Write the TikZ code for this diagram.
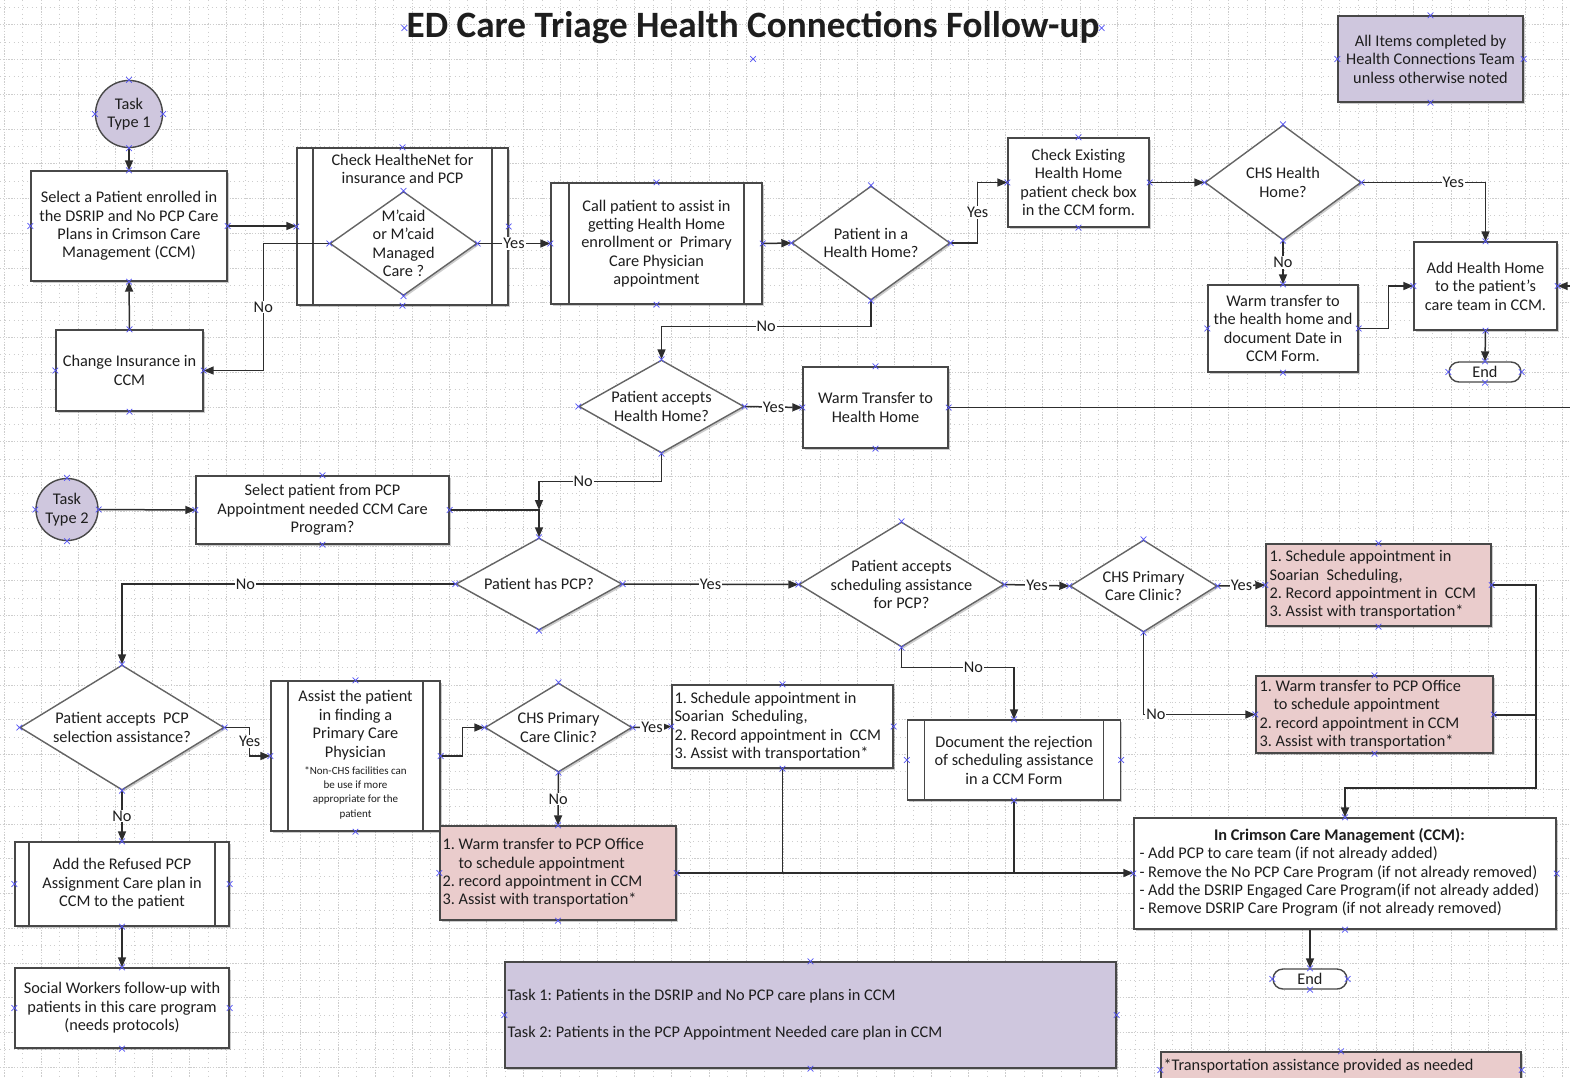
\documentclass[tikz,border=0pt]{standalone}
\usepackage{fontspec}
\setmainfont{Carlito}
\usetikzlibrary{arrows.meta,shapes.geometric,shapes.misc,shadows,calc}

\definecolor{lav}{RGB}{207,199,222}
\definecolor{pinkfill}{RGB}{234,204,204}
\definecolor{boxline}{RGB}{72,72,72}
\definecolor{decline}{RGB}{100,100,100}
\definecolor{conn}{RGB}{45,45,45}
\definecolor{gridc}{RGB}{205,205,205}
\definecolor{markc}{RGB}{85,85,245}
\definecolor{ink}{RGB}{30,30,30}

\newcommand\bodyfont{\fontsize{16.3}{18.4}\selectfont}
\newcommand\notefont{\fontsize{11}{14.2}\selectfont}
\frenchspacing

\begin{document}
\begin{tikzpicture}[x=1pt, y=-1pt, font=\bodyfont,
  every node/.style={text=ink},
  softshadow/.style={drop shadow={shadow xshift=1.8pt, shadow yshift=-1.8pt, opacity=0.2, fill=black}},
  proc/.style={rectangle, draw=boxline, line width=1.4pt, fill=white, align=center, inner sep=3pt, softshadow},
  tint/.style={proc, fill=#1},
  subproc/.style={proc, path picture={
      \draw[boxline, line width=1.4pt] ([xshift=#1]path picture bounding box.north west) -- ([xshift=#1]path picture bounding box.south west);
      \draw[boxline, line width=1.4pt] ([xshift=-#1]path picture bounding box.north east) -- ([xshift=-#1]path picture bounding box.south east);}},
  decision/.style={diamond, draw=decline, line width=1.4pt, fill=white, inner sep=0pt, softshadow},
  dtext/.style={align=center, inner sep=0pt},
  lefttext/.style={anchor=west, align=left, inner sep=4pt},
  startnode/.style={circle, draw=boxline, line width=1.4pt, fill=lav, align=center, inner sep=0pt},
  terminal/.style={rounded rectangle, draw=boxline, line width=1.4pt, fill=white, inner sep=0pt, minimum width=#1, minimum height=20pt},
  arr/.style={draw=conn, line width=1.5pt, -{Triangle[length=10pt,width=8pt]}},
  plain/.style={draw=conn, line width=1.5pt},
  lbl/.style={fill=white, inner sep=1pt},
  xmark/.style={cross out, draw=markc, line width=0.7pt, minimum size=5pt, inner sep=0pt},
  majorgrid/.style={gridc, line width=0.7pt, dash pattern=on 1.3pt off 1.5pt},
  minorgrid/.style={gridc, line width=0.6pt, dash pattern=on 0.7pt off 3.8pt},
]
\useasboundingbox (0,0) rectangle (1570,1077);
\clip (0,0) rectangle (1570,1077);
\fill[white] (0,0) rectangle (1570,1077);

% drawing-page grid
\foreach \k in {0,...,42}{
  \draw[majorgrid] ({4+37.1*\k},0) -- ({4+37.1*\k},1077);
  \draw[minorgrid] ({22.55+37.1*\k},0) -- ({22.55+37.1*\k},1077);
}
\foreach \k in {-1,...,30}{
  \draw[majorgrid] (0,{24.6+34.75*\k}) -- (1570,{24.6+34.75*\k});
  \draw[minorgrid] (0,{41.97+34.75*\k}) -- (1570,{41.97+34.75*\k});
}

% title
\node[font=\fontsize{37.2}{41}\selectfont\bfseries, inner sep=2pt] (title) at (753,28) {ED Care Triage Health Connections Follow-up};

% ---- task type 1 ----
\node[startnode, minimum size=67pt] (task1) at (129,114) {Task\\Type 1};
\node[proc, minimum width=196pt, minimum height=110pt] (sel1) at (129,226)
  {Select a Patient enrolled in\\the DSRIP and No PCP Care\\Plans in Crimson Care\\Management (CCM)};
\node[proc, minimum width=147pt, minimum height=81pt] (chgins) at (129.5,370.5) {Change Insurance in\\CCM};
\node[subproc=16pt, minimum width=211pt, minimum height=157pt,
  label={[align=center, anchor=north, yshift=-3pt]north:{Check HealtheNet for\\insurance and PCP}}] (hnet) at (402.5,226.5) {};
\node[decision, minimum width=147pt, minimum height=104pt,
  label={[dtext]center:{M’caid\\or M’caid\\Managed\\Care ?}}] (mcaid) at (403.5,243.5) {};
\node[subproc=18pt, minimum width=211pt, minimum height=121pt] (call) at (656.5,243.5)
  {Call patient to assist in\\getting Health Home\\enrollment or\ \ Primary\\Care Physician\\appointment};
\node[decision, minimum width=158pt, minimum height=114pt,
  label={[dtext]center:{Patient in a\\Health Home?}}] (phh) at (871,243) {};
\node[proc, minimum width=141pt, minimum height=89pt] (chkex) at (1078.5,182.5)
  {Check Existing\\Health Home\\patient check box\\in the CCM form.};
\node[decision, minimum width=156pt, minimum height=115pt,
  label={[dtext]center:{CHS Health\\Home?}}] (chshh) at (1283,182.5) {};
\node[tint=lav, minimum width=185pt, minimum height=86pt] (allitems) at (1430.5,59)
  {All Items completed by\\Health Connections Team\\unless otherwise noted};
\node[proc, minimum width=143pt, minimum height=88pt] (addhh) at (1485.5,286)
  {Add Health Home\\to the patient’s\\care team in CCM.};
\node[terminal=72pt] (end1) at (1485,372) {End};
\node[proc, minimum width=150pt, minimum height=87pt] (wthh2) at (1283,328.5)
  {Warm transfer to\\the health home and\\document Date in\\CCM Form.};
\node[decision, minimum width=165pt, minimum height=93pt,
  label={[dtext]center:{Patient accepts\\Health Home?}}] (pahh) at (661.5,406.5) {};
\node[proc, minimum width=145pt, minimum height=81pt] (wthh) at (875.5,407.5) {Warm Transfer to\\Health Home};

% ---- task type 2 ----
\node[startnode, minimum size=62pt] (task2) at (67,509.5) {Task\\Type 2};
\node[proc, minimum width=253pt, minimum height=68pt] (selpcp) at (322.5,510)
  {Select patient from PCP\\Appointment needed CCM Care\\Program?};
\node[decision, minimum width=166pt, minimum height=92pt,
  label={[dtext]center:{Patient has PCP?}}] (phpcp) at (539,584) {};
\node[decision, minimum width=205pt, minimum height=125pt,
  label={[dtext]center:{Patient accepts\\scheduling assistance\\for PCP?}}] (pasa) at (901.5,584.5) {};
\node[decision, minimum width=147pt, minimum height=92pt,
  label={[dtext]center:{CHS Primary\\Care Clinic?}}] (chspcc2) at (1143.5,586) {};
\node[tint=pinkfill, minimum width=225pt, minimum height=82pt,
  label={[lefttext]west:{1. Schedule appointment in\\Soarian\ \ Scheduling,\\2. Record appointment in\ \ CCM\\3. Assist with transportation*}}] (red1) at (1378.5,585) {};
\node[tint=pinkfill, minimum width=237pt, minimum height=77pt,
  label={[lefttext]west:{1. Warm transfer to PCP Office\\\hspace*{14pt}to schedule appointment\\2. record appointment in CCM\\3. Assist with transportation*}}] (red2) at (1374.5,714.5) {};
\node[subproc=17pt, minimum width=213pt, minimum height=80pt] (docrej) at (1014,760)
  {Document the rejection\\of scheduling assistance\\in a CCM Form};
\node[decision, minimum width=204pt, minimum height=125pt,
  label={[dtext]center:{Patient accepts\ \ PCP\\selection assistance?}}] (papcp) at (122,727.5) {};
\node[subproc=17pt, minimum width=169pt, minimum height=150pt] (assist) at (355.5,756)
  {Assist the patient\\in finding a\\Primary Care\\Physician\\[-1pt]{\notefont\begin{tabular}[t]{@{}c@{}}*Non-CHS facilities can\\be use if more\\appropriate for the\\patient\end{tabular}}};
\node[decision, minimum width=147pt, minimum height=89pt,
  label={[dtext]center:{CHS Primary\\Care Clinic?}}] (chspcc1) at (558.5,727.5) {};
\node[proc, minimum width=221pt, minimum height=83pt,
  label={[lefttext, inner sep=3pt]west:{1. Schedule appointment in\\Soarian\ \ Scheduling,\\2. Record appointment in\ \ CCM\\3. Assist with transportation*}}] (sched) at (782.5,726.5) {};
\node[tint=pinkfill, minimum width=236pt, minimum height=94pt,
  label={[lefttext, inner sep=3pt]west:{1. Warm transfer to PCP Office\\\hspace*{16pt}to schedule appointment\\2. record appointment in CCM\\3. Assist with transportation*}}] (red3) at (558,873) {};
\node[subproc=14pt, minimum width=214pt, minimum height=84pt] (refused) at (122,884)
  {Add the Refused PCP\\Assignment Care plan in\\CCM to the patient};
\node[proc, minimum width=214pt, minimum height=80pt] (social) at (122,1008)
  {Social Workers follow-up with\\patients in this care program\\(needs protocols)};
\node[tint=lav, minimum width=611pt, minimum height=106pt,
  label={[lefttext, inner sep=3pt]west:{Task 1: Patients in the DSRIP and No PCP care plans in CCM\\[18.4pt]Task 2: Patients in the PCP Appointment Needed care plan in CCM}}] (legend) at (810.5,1015) {};
\node[proc, minimum width=422pt, minimum height=111pt,
  label={[lefttext, inner sep=6pt]west:{\begin{tabular}{@{}l@{}}\multicolumn{1}{@{}c@{}}{\bfseries In Crimson Care Management (CCM):}\\- Add PCP to care team (if not already added)\\- Remove the No PCP Care Program (if not already removed)\\- Add the DSRIP Engaged Care Program(if not already added)\\- Remove DSRIP Care Program (if not already removed)\end{tabular}}}] (ccm) at (1345,873.5) {};
\node[terminal=74pt] (end2) at (1310,979) {End};
\node[tint=pinkfill, minimum width=360pt, minimum height=36pt,
  label={[lefttext, inner sep=3pt, yshift=4pt]west:{*Transportation assistance provided as needed}}] (transp) at (1341,1070) {};

% free ends at the page edge and the collecting bus on the right
\coordinate (edgeA) at (1570,407);
\coordinate (edgeB) at (1572,286);
\coordinate (busR) at (1536,788);

% ---- connectors, task type 1 ----
\draw[arr] (task1.south) -- (sel1.north);
\draw[arr] (chgins.north) -- (sel1.south);
\draw[arr] (sel1.east) -- (sel1.east -| hnet.west);
\draw[arr] (mcaid.west) -- ++(-66,0) |- (chgins.east) node[lbl, pos=0.25] {No};
\draw[arr] (mcaid.east) -- (call.west) node[lbl, midway] {Yes};
\draw[arr] (call.east) -- (phh.west);
\draw[arr] (phh.east) -- ++(27,0) |- (chkex.west) node[lbl, pos=0.25] {Yes};
\draw[arr] (phh.south) -- ++(0,26) -| (pahh.north) node[lbl, pos=0.25] {No};
\draw[arr] (chkex.east) -- (chshh.west);
\draw[arr] (chshh.east) -| (addhh.north) node[lbl, pos=0.37] {Yes};
\draw[arr] (chshh.south) -- (wthh2.north) node[lbl, midway] {No};
\draw[arr] (wthh2.east) -- ++(30,0) |- (addhh.west);
\draw[arr] (addhh.south) -- (end1.north);
\draw[arr] (edgeB |- addhh.east) -- (addhh.east);
\draw[arr] (pahh.east) -- (wthh.west) node[lbl, midway] {Yes};
\draw[plain] (wthh.east) -- (wthh.east -| edgeA);

% ---- connectors, task type 2 ----
\draw[arr] (pahh.south) -- ++(0,28) -| (phpcp.north |- selpcp.east) node[lbl, pos=0.32] {No};
\draw[arr] (task2.east) -- (selpcp.west);
\draw[arr] (selpcp.east) -| (phpcp.north);
\draw[arr] (phpcp.west) -| (papcp.north) node[lbl, pos=0.315] {No};
\draw[arr] (phpcp.east) -- (pasa.west) node[lbl, midway] {Yes};
\draw[arr] (pasa.east) -- (chspcc2.west) node[lbl, midway] {Yes};
\draw[arr] (chspcc2.east) -- (red1.west) node[lbl, midway] {Yes};
\draw[arr] (chspcc2.south) |- (red2.west) node[lbl, pos=0.555] {No};
\draw[arr] (pasa.south) -- ++(0,20) -| (docrej.north) node[lbl, pos=0.32] {No};
\draw[arr, line width=2pt] (red1.east) -| (busR) -| (ccm.north);
\draw[plain, line width=2pt] (red2.east) -- (red2.east -| busR);
\draw[arr] (papcp.east) -- ++(25,0) |- (assist.west) node[lbl, pos=0.25] {Yes};
\draw[arr] (papcp.south) -- (refused.north) node[lbl, midway] {No};
\draw[arr] (refused.south) -- (social.north);
\draw[arr] (assist.east) -- ++(22,0) |- (chspcc1.west);
\draw[arr] (chspcc1.east) -- (sched.west) node[lbl, midway] {Yes};
\draw[arr] (chspcc1.south) -- (red3.north) node[lbl, midway] {No};
\draw[arr] (red3.east) -- (red3.east -| ccm.west);
\draw[plain] (sched.south) -- (sched.south |- red3.east);
\draw[plain] (docrej.south) -- (docrej.south |- red3.east);
\draw[arr] (ccm.south -| end2.north) -- (end2.north);

% connection points
\foreach \n in {task1,sel1,chgins,hnet,mcaid,call,phh,chkex,chshh,allitems,addhh,end1,wthh2,pahh,wthh,
                task2,selpcp,phpcp,pasa,chspcc2,red1,red2,docrej,papcp,assist,chspcc1,sched,red3,
                refused,social,legend,ccm,end2}{
  \foreach \a in {north,south,east,west}{
    \node[xmark] (m-\n-\a) at (\n.\a) {};
  }
}
\foreach \a in {north,east,west}{
  \node[xmark] (m-transp-\a) at (transp.\a) {};
}
\node[xmark] (m-title-w) at (title.west) {};
\node[xmark] (m-title-e) at (title.east) {};
\node[xmark] (m-title-s) at ([yshift=-31pt]title.center) {};
\end{tikzpicture}
\end{document}
